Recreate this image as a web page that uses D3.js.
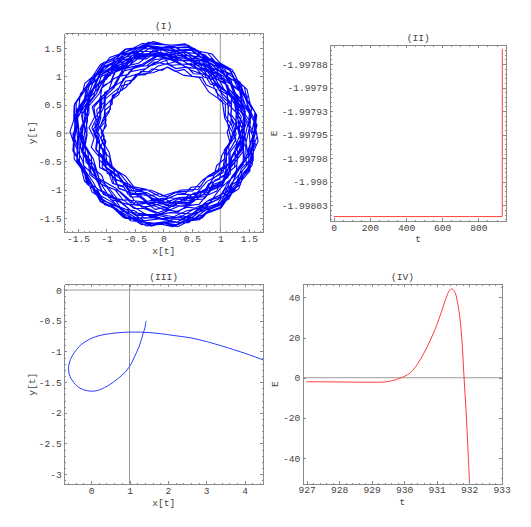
<!DOCTYPE html>
<html>
<head>
<meta charset="utf-8">
<title>Orbit and energy</title>
<script src="https://d3js.org/d3.v7.min.js"></script>
<style>
  body { margin: 0; background: #fff; }
  svg { display: block; }
  text { font-family: "Liberation Mono", "DejaVu Sans Mono", monospace; font-size: 9.6px; fill: #444; }
  .frame .domain, .frame line { stroke: #8a8a8a; stroke-width: 1; shape-rendering: crispEdges; }
  .origin { stroke: #9a9a9a; stroke-width: 1; }
</style>
</head>
<body>
<svg width="531" height="527"></svg>
<script>
const orbitAngle = [
  0,14,29,44,58,75,89,104,118,133,148,162,178,193,207,222,236,251,266,280,296,310,325,340,354,
  9,23,38,52,67,81,96,111,125,140,154,169,184,198,213,228,242,257,271,286,300,315,330,344,358,
  12,27,41,56,70,85,99,114,129,143,158,172,187,201,216,231,245,260,274,289,303,318,332,347,
  1,16,30,45,59,74,88,103,118,132,147,161,176,190,205,219,234,248,263,277,292,306,321,335,350,
  4,19,33,48,62,77,91,106,120,135,150,164,179,193,208,222,237,251,266,280,295,309,324,338,353,
  7,22,36,51,65,80,94,109,123,138,152,167,181,196,210,225,239,254,268,283,297,312,326,341,355,
  10,25,39,54,68,83,97,112,126,141,155,170,184,199,213,228,242,257,271,286,300,315,329,344,358,
  13,27,42,56,71,85,100,114,129,143,158,172,187,201,216,230,245,259,274,288,303,317,332,346,
  1,15,30,44,59,73,88,102,117,131,146,160,175,189,204,218,233,247,262,276,291,305,320,334,349,
  3,18,32,47,61,76,90,105,119,134,148,163,177,192,206,221,235,250,264,279,293,308,322,337,351,
  6,20,35,49,64,78,93,107,122,136,151,165,180,194,209,223,238,252,267,281,296,310,325,339,354,
  8,23,37,52,66,81,95,110,124,139,153,168,182,197,211,226,240,255,269,284,298,313,327,342,356,
  11,25,40,54,69,83,98,112,127,141,156,170,185,199,214,228,243,257,272,286,301,315,330,344,359,
  14,28,43,57,72,86,101,115,130,144,159,173,188,202,217,231,246,260,275,289,304,318,333,347,
  2,16,31,45,60,74,89,103,118,132,147,161,176,190,205,219,234,248,263,277,292,306,321,335,350,
  4,19,33,48,62,77,91,106,120,135,149,164,178,193,207,222,236,251,265,280,294,309,323,338,352,
  7,21,36,50,65,79,94,108,123,137,152,166,181,195,210,224,239,253,268,282,297,311,326,340,355,
  9,24,38,53,67,82,96,111,125,140,154,169,183,198,212,227,241,256,270,285,299,314,328,343,357,
  3,10,19,26,35,42,51,58,67,74,83,90,99,106,115,122,131,138,147,154,163,170,179,186,195,202,211,218,227,234,243,250,259,266,275,282,291,298,307,314,323,330,339,346,355,
  5,13,21,28,37,45,53,60,69,77,85,92,101,109,117,124,133,141,149,156,165,173,181,188,197,205,213,220,229,237,245,252,261,269,277,284,293,301,309,316,325,333,341,348,357,
  6,13,22,30,37,46,54,61,70,78,85,94,102,109,118,126,133,142,150,157,166,174,181,190,198,205,214,222,229,238,246,253,262,270,277,286,294,301,310,318,325,334,342,349,358,
  2,10,17,26,34,41,50,58,65,74,82,89,98,106,113,122,130,137,146,154,161,170,178,185,194,202,209,218,226,233,242,250,257,266,274,281,290,298,305,314,322,329,338,346,353,
  1,9,18,25,33,42,49,57,66,73,81,90,97,105,114,121,129,138,145,153,162,169,177,186,193,201,210,217,225,234,241,249,258,265,273,282,289,297,306,313,321,330,337,345,354,
  4,12,20,29,36,44,53,60,68,77,84,92,101,108,116,125,132,140,149,156,164,173,180,188,197,204,212,221,228,236,245,252,260,269,276,284,293,300,308,317,324,332,341,348,356,
  7,14,23,31,38,47,55,62,71,79,86,95,103,110,119,127,134,143,151,158,167,175,182,191,199,206,215,223,230,239,247,254,263,271,278,287,295,302,311,319,326,335,343,350,359,
  3,11,18,27,35,42,51,59,66,75,83,90,99,107,114,123,131,138,147,155,162,171,179,186,195,203,210,219,227,234,243,251,258,267,275,282,291,299,306,315,323,330,339,347,354,
  2,10,19,26,34,43,50,58,67,74,82,91,98,106,115,122,130,139,146,154,163,170,178,187,194,202,211,218,226,235,242,250,259,266,274,283,290,298,307,314,322,331,338,346,355,
  5,13,20,29,37,44,53,61,68,77,85,92,101,109,116,125,133,140,149,157,164,173,181,188,197,205,212,221,229,236,245,253,260,269,277,284,293,301,308,317,325,332,341,349,356,
  1,9,16,25,33,40,49,57,64,73,81,88,97,105,112,121,129,136,145,153,160,169,177,184,193,201,208,217,225,232,241,249,256,265,273,280,289,297,304,313,321,328,337,345,352,
  4,12,19,28,36,43,52,60,67,76,84,91,100,108,115,124,132,139,148,156,163,172,180,187,196,204,211,220,228,235,244,252,259,268,276,283,292,300,307,316,324,331,340,348,355
];
const orbitRadius = [
  1.30,1.38,1.31,1.42,1.35,1.47,1.40,1.51,1.44,1.55,1.47,1.56,1.49,1.58,1.50,1.60,1.52,1.58,1.49,1.55,1.45,1.51,1.40,1.46,1.36,
  1.28,1.20,1.27,1.16,1.22,1.12,1.18,1.08,1.15,1.06,1.13,1.05,1.12,1.04,1.11,1.06,1.14,1.08,1.17,1.10,1.20,1.13,1.24,1.18,1.30,
  1.40,1.50,1.45,1.56,1.50,1.61,1.55,1.64,1.57,1.65,1.58,1.66,1.59,1.65,1.57,1.64,1.56,1.63,1.55,1.64,1.57,1.62,1.53,1.59,
  1.50,1.56,1.47,1.52,1.41,1.47,1.36,1.42,1.31,1.37,1.27,1.33,1.22,1.29,1.19,1.26,1.17,1.24,1.15,1.23,1.16,1.25,1.18,1.28,1.21,
  1.30,1.22,1.33,1.26,1.37,1.30,1.41,1.34,1.45,1.38,1.49,1.42,1.53,1.46,1.56,1.49,1.59,1.52,1.62,1.55,1.63,1.56,1.64,1.57,1.62,
  1.52,1.44,1.47,1.37,1.41,1.31,1.35,1.25,1.30,1.20,1.26,1.16,1.23,1.14,1.21,1.12,1.20,1.12,1.22,1.15,1.26,1.19,1.31,1.24,1.36,
  1.30,1.40,1.33,1.45,1.38,1.48,1.40,1.49,1.41,1.50,1.42,1.51,1.43,1.52,1.44,1.50,1.42,1.49,1.40,1.47,1.38,1.46,1.37,1.45,1.36,
  1.46,1.55,1.50,1.60,1.54,1.63,1.56,1.62,1.53,1.60,1.51,1.58,1.50,1.59,1.52,1.61,1.54,1.64,1.58,1.66,1.60,1.65,1.58,1.62,
  1.55,1.60,1.50,1.54,1.43,1.47,1.36,1.40,1.28,1.33,1.21,1.26,1.14,1.20,1.09,1.16,1.07,1.15,1.06,1.14,1.04,1.12,1.05,1.14,1.08,
  1.16,1.07,1.15,1.06,1.16,1.09,1.20,1.13,1.24,1.17,1.28,1.21,1.32,1.25,1.36,1.29,1.40,1.33,1.44,1.37,1.47,1.40,1.50,1.43,1.52,
  1.46,1.57,1.51,1.62,1.55,1.64,1.56,1.63,1.55,1.62,1.53,1.63,1.56,1.66,1.58,1.65,1.57,1.62,1.53,1.60,1.50,1.57,1.47,1.54,1.44,
  1.36,1.27,1.33,1.22,1.29,1.18,1.26,1.16,1.24,1.13,1.21,1.10,1.19,1.09,1.18,1.10,1.20,1.13,1.24,1.17,1.29,1.22,1.34,1.27,1.39,
  1.33,1.44,1.37,1.47,1.40,1.52,1.44,1.55,1.47,1.57,1.48,1.55,1.45,1.53,1.42,1.50,1.39,1.47,1.36,1.45,1.34,1.43,1.33,1.42,1.35,
  1.25,1.35,1.22,1.31,1.18,1.27,1.15,1.25,1.14,1.26,1.17,1.30,1.22,1.36,1.29,1.43,1.36,1.50,1.43,1.55,1.48,1.58,1.50,1.57,
  1.49,1.58,1.52,1.61,1.53,1.59,1.49,1.55,1.45,1.52,1.41,1.50,1.40,1.49,1.40,1.50,1.42,1.53,1.45,1.57,1.50,1.60,1.53,1.62,1.55,
  1.45,1.36,1.40,1.28,1.33,1.20,1.26,1.12,1.19,1.07,1.15,1.04,1.12,1.03,1.11,1.02,1.10,1.03,1.12,1.05,1.15,1.09,1.20,1.14,1.26,
  1.20,1.31,1.26,1.38,1.32,1.44,1.37,1.48,1.41,1.52,1.45,1.57,1.50,1.60,1.53,1.62,1.55,1.60,1.51,1.57,1.47,1.53,1.43,1.49,1.39,
  1.45,1.35,1.41,1.30,1.37,1.27,1.35,1.26,1.36,1.28,1.39,1.31,1.42,1.34,1.45,1.37,1.47,1.39,1.48,1.40,1.49,1.41,1.50,1.42,1.46,
  1.22,1.28,1.21,1.27,1.20,1.27,1.22,1.29,1.24,1.31,1.26,1.33,1.28,1.34,1.29,1.36,1.31,1.37,1.32,1.39,1.34,1.40,1.35,1.42,1.37,1.43,1.38,1.44,1.39,1.46,1.41,1.47,1.42,1.48,1.43,1.49,1.44,1.50,1.45,1.51,1.46,1.52,1.47,1.53,1.48,
  1.55,1.61,1.54,1.60,1.53,1.60,1.55,1.62,1.56,1.63,1.57,1.63,1.56,1.62,1.55,1.61,1.54,1.61,1.56,1.63,1.58,1.64,1.58,1.65,1.59,1.65,1.58,1.64,1.57,1.63,1.56,1.62,1.55,1.61,1.54,1.60,1.53,1.59,1.52,1.58,1.51,1.57,1.50,1.56,1.49,
  1.44,1.50,1.42,1.47,1.39,1.44,1.36,1.41,1.33,1.38,1.30,1.35,1.27,1.32,1.24,1.29,1.21,1.27,1.19,1.25,1.17,1.23,1.14,1.20,1.11,1.17,1.09,1.15,1.07,1.13,1.05,1.12,1.04,1.11,1.03,1.10,1.04,1.11,1.05,1.12,1.06,1.13,1.08,1.15,1.10,
  1.16,1.10,1.17,1.11,1.18,1.12,1.19,1.12,1.18,1.11,1.17,1.10,1.16,1.09,1.15,1.08,1.14,1.07,1.13,1.06,1.12,1.06,1.13,1.07,1.14,1.09,1.16,1.11,1.18,1.13,1.21,1.16,1.24,1.19,1.28,1.23,1.32,1.27,1.36,1.31,1.40,1.35,1.44,1.39,1.48,
  1.52,1.46,1.53,1.47,1.55,1.49,1.57,1.51,1.59,1.52,1.60,1.53,1.61,1.54,1.60,1.53,1.59,1.51,1.57,1.50,1.56,1.48,1.55,1.47,1.54,1.46,1.53,1.45,1.52,1.44,1.50,1.43,1.49,1.42,1.48,1.41,1.47,1.40,1.46,1.39,1.45,1.38,1.44,1.37,1.42,
  1.36,1.30,1.37,1.31,1.38,1.32,1.39,1.33,1.40,1.33,1.39,1.32,1.38,1.31,1.37,1.30,1.36,1.29,1.35,1.28,1.34,1.28,1.35,1.29,1.36,1.30,1.38,1.32,1.39,1.33,1.41,1.35,1.42,1.36,1.43,1.37,1.44,1.38,1.45,1.39,1.46,1.40,1.47,1.41,1.48,
  1.54,1.60,1.56,1.62,1.57,1.63,1.58,1.64,1.59,1.65,1.60,1.65,1.59,1.64,1.58,1.63,1.57,1.63,1.58,1.64,1.59,1.65,1.60,1.66,1.60,1.65,1.59,1.64,1.58,1.64,1.59,1.65,1.60,1.66,1.61,1.66,1.60,1.65,1.59,1.64,1.58,1.63,1.57,1.62,1.56,
  1.55,1.49,1.54,1.47,1.52,1.45,1.50,1.42,1.47,1.40,1.45,1.37,1.42,1.34,1.39,1.31,1.36,1.28,1.33,1.25,1.30,1.22,1.27,1.19,1.24,1.16,1.21,1.13,1.18,1.10,1.16,1.08,1.14,1.06,1.13,1.05,1.12,1.05,1.13,1.06,1.14,1.08,1.16,1.10,1.18,
  1.22,1.15,1.23,1.16,1.25,1.18,1.27,1.20,1.28,1.21,1.29,1.21,1.28,1.20,1.27,1.19,1.26,1.18,1.25,1.17,1.24,1.16,1.23,1.16,1.24,1.17,1.25,1.18,1.27,1.20,1.29,1.22,1.31,1.24,1.33,1.26,1.35,1.28,1.37,1.30,1.39,1.32,1.41,1.34,1.43,
  1.38,1.45,1.40,1.47,1.42,1.49,1.44,1.51,1.46,1.53,1.48,1.55,1.50,1.57,1.52,1.58,1.53,1.60,1.55,1.61,1.56,1.62,1.57,1.63,1.58,1.63,1.57,1.62,1.56,1.62,1.55,1.61,1.54,1.60,1.53,1.59,1.52,1.58,1.51,1.57,1.50,1.56,1.49,1.55,1.48,
  1.44,1.37,1.43,1.36,1.42,1.34,1.40,1.33,1.39,1.31,1.37,1.30,1.36,1.28,1.34,1.27,1.33,1.25,1.31,1.24,1.30,1.22,1.29,1.21,1.28,1.20,1.27,1.19,1.26,1.18,1.25,1.17,1.24,1.17,1.25,1.18,1.26,1.19,1.27,1.20,1.28,1.21,1.29,1.22,1.30,
  1.33,1.40,1.36,1.44,1.40,1.48,1.44,1.52,1.48,1.55,1.50,1.57,1.51,1.56,1.49,1.53,1.45,1.49,1.41,1.45,1.36,1.40,1.31,1.35,1.26,1.30,1.21,1.26,1.17,1.23,1.15,1.22,1.14,1.22,1.16,1.24,1.19,1.27,1.23,1.31,1.27,1.35,1.31,1.39,1.35
];

// ---- (II) energy over the whole run
const tII = [0, 150, 300, 450, 600, 750, 900, 931, 931.6, 932];
const eII = [-1.998037, -1.998037, -1.998037, -1.998037, -1.998037, -1.998037, -1.998037, -1.998037, -1.998036, -1.997859];

// ---- (III) last part of the orbit
const xIII = [1.43, 1.40, 1.36, 1.25, 1.12, 1.00, 0.80, 0.58, 0.35, 0.10, -0.10, -0.29, -0.45, -0.55, -0.59, -0.57, -0.50, -0.38, -0.24, 0.00, 0.23, 0.50, 0.84, 1.15, 1.43, 1.80, 2.14, 2.60, 3.01, 3.40, 3.71, 4.10, 4.49, 4.80];
const yIII = [-0.505, -0.62, -0.70, -0.92, -1.10, -1.25, -1.39, -1.50, -1.59, -1.645, -1.64, -1.60, -1.51, -1.41, -1.30, -1.19, -1.08, -0.97, -0.88, -0.79, -0.74, -0.71, -0.69, -0.685, -0.69, -0.71, -0.74, -0.78, -0.84, -0.91, -0.97, -1.05, -1.14, -1.21];

// ---- (IV) energy near the end
const tIV = [927.0, 927.5, 928.0, 928.5, 929.0, 929.3, 929.5, 929.7, 929.85, 930.0, 930.2, 930.4, 930.6, 930.8, 931.0, 931.15, 931.3, 931.4, 931.47, 931.55, 931.67, 931.77, 931.84, 931.92, 931.97, 932.02];
const eIV = [-2.0, -2.05, -2.1, -2.2, -2.25, -2.2, -1.9, -1.2, -0.4, 0.6, 2.6, 6.5, 12, 18.5, 26, 33, 40, 43.6, 44.2, 43, 35, 20.5, 1, -21, -38, -56];

// ---- tick labels
const ticksI = [-1.5, -1, -0.5, 0, 0.5, 1, 1.5];
const labelsI = ["-1.5", "-1", "-0.5", "0", "0.5", "1", "1.5"];
const ticksIIx = [0, 200, 400, 600, 800];
const ticksIIy = [-1.997875, -1.9979, -1.997925, -1.99795, -1.997975, -1.998, -1.998025];
const labelsIIy = ["-1.99788", "-1.9979", "-1.99793", "-1.99795", "-1.99798", "-1.998", "-1.99803"];
const ticksIIIx = [0, 1, 2, 3, 4];
const ticksIIIy = [0, -0.5, -1, -1.5, -2, -2.5, -3];
const labelsIIIy = ["0", "-0.5", "-1", "-1.5", "-2", "-2.5", "-3"];
const ticksIVx = [927, 928, 929, 930, 931, 932, 933];
const ticksIVy = [40, 20, 0, -20, -40];
const labelsIVy = ["40", "20", "0", "-20", "-40"];

const svg = d3.select("svg");
let clipId = 0;

function panel(o) {
  const g = svg.append("g");
  const x = d3.scaleLinear().domain(o.xd).range([o.l, o.r]);
  const y = d3.scaleLinear().domain(o.yd).range([o.b, o.t]);
  const id = "clip" + (clipId++);
  svg.append("clipPath").attr("id", id)
    .append("rect").attr("x", o.l).attr("y", o.t).attr("width", o.r - o.l).attr("height", o.b - o.t);
  const inner = g.append("g").attr("clip-path", "url(#" + id + ")");

  // axes through the origin point
  if (o.ox !== undefined)
    inner.append("line").attr("class", "origin")
      .attr("x1", x(o.ox)).attr("x2", x(o.ox)).attr("y1", o.t).attr("y2", o.b);
  if (o.oy !== undefined)
    inner.append("line").attr("class", "origin").attr("stroke-width", o.oyw || 1)
      .attr("x1", o.l).attr("x2", o.r).attr("y1", y(o.oy)).attr("y2", y(o.oy));

  o.draw(inner, x, y);

  // frame: ticks on all four sides, labels on bottom and left only
  const fmt = (vals, labs) => (d) => labs ? labs[vals.indexOf(d)] : String(d);
  const frame = g.append("g").attr("class", "frame");
  const sides = [
    [d3.axisBottom, x, `translate(0,${o.b})`, o.xt, o.xl, o.xm, true],
    [d3.axisTop, x, `translate(0,${o.t})`, o.xt, o.xl, o.xm, false],
    [d3.axisLeft, y, `translate(${o.l},0)`, o.yt, o.yl, o.ym, true],
    [d3.axisRight, y, `translate(${o.r},0)`, o.yt, o.yl, o.ym, false]
  ];
  sides.forEach(([mk, sc, tr, vals, labs, nMinor, show]) => {
    frame.append("g").attr("transform", tr)
      .call(mk(sc).tickValues(sc.ticks(nMinor)).tickSize(-1.5).tickSizeOuter(0).tickFormat(""));
    frame.append("g").attr("transform", tr)
      .call(mk(sc).tickValues(vals).tickSize(-3).tickSizeOuter(0).tickPadding(show ? 2.5 : 0)
        .tickFormat(show ? fmt(vals, labs) : ""));
  });
  frame.selectAll("g").attr("font-family", null).attr("font-size", null);
  frame.selectAll("text").attr("fill", null);

  // titles and axis labels
  g.append("text").attr("x", (o.l + o.r) / 2).attr("y", o.t - 4).attr("text-anchor", "middle").text(o.title);
  g.append("text").attr("x", (o.l + o.r) / 2).attr("y", o.b + o.xlabDy).attr("text-anchor", "middle").text(o.xlab);
  g.append("text").attr("transform", `translate(${o.l - o.ylabDx},${(o.t + o.b) / 2}) rotate(-90)`)
    .attr("text-anchor", "middle").attr("dominant-baseline", "central").text(o.ylab);
}

// (I)
panel({
  l: 64.3, r: 263, t: 33.3, b: 232.3, xd: [-1.74, 1.75], yd: [-1.75, 1.76],
  xt: ticksI, xl: labelsI, yt: ticksI, yl: labelsI, xm: 35, ym: 35,
  ox: 1, oy: 0, title: "(I)", xlab: "x[t]", ylab: "y[t]", xlabDy: 21.5, ylabDx: 32,
  draw: (g, x, y) => {
    const rs = d3.scaleLinear().domain([0, 1]).range([0, x(1) - x(0)]);
    const pts = orbitAngle.map((a, i) => [a, orbitRadius[i]]);
    g.append("path").datum(pts)
      .attr("transform", `translate(${x(0.02)},${y(0)})`)
      .attr("d", d3.lineRadial().angle(d => d[0] * Math.PI / 180).radius(d => rs(d[1])))
      .attr("fill", "none").attr("stroke", "#0000ff").attr("stroke-width", 1.1);
  }
});

// (II)
panel({
  l: 330.3, r: 506, t: 45.3, b: 221.3, xd: [-18.8, 952.4], yd: [-1.998042, -1.997855],
  xt: ticksIIx, yt: ticksIIy, yl: labelsIIy, xm: 20, ym: 40,
  title: "(II)", xlab: "t", ylab: "E", xlabDy: 21, ylabDx: 56,
  draw: (g, x, y) => {
    g.append("path").datum(tII.map((t, i) => [t, eII[i]]))
      .attr("d", d3.line().x(d => x(d[0])).y(d => y(d[1])))
      .attr("fill", "none").attr("stroke", "#ff3a3a").attr("stroke-width", 1);
  }
});

// (III)
panel({
  l: 64.3, r: 263, t: 284.3, b: 484.3, xd: [-0.70, 4.48], yd: [-3.165, 0.093],
  xt: ticksIIIx, yt: ticksIIIy, yl: labelsIIIy, xm: 26, ym: 33,
  ox: 1, oy: 0, oyw: 1.6, title: "(III)", xlab: "x[t]", ylab: "y[t]", xlabDy: 21.5, ylabDx: 32,
  draw: (g, x, y) => {
    g.append("path").datum(xIII.map((v, i) => [v, yIII[i]]))
      .attr("d", d3.line().x(d => x(d[0])).y(d => y(d[1])).curve(d3.curveCatmullRom))
      .attr("fill", "none").attr("stroke", "#2a3cff").attr("stroke-width", 1);
  }
});

// (IV)
panel({
  l: 302.7, r: 502.3, t: 284.3, b: 484, xd: [926.88, 933.02], yd: [-52.9, 46.5],
  xt: ticksIVx, yt: ticksIVy, yl: labelsIVy, xm: 30, ym: 20,
  oy: 0, title: "(IV)", xlab: "t", ylab: "E", xlabDy: 21, ylabDx: 27,
  draw: (g, x, y) => {
    g.append("path").datum(tIV.map((t, i) => [t, eIV[i]]))
      .attr("d", d3.line().x(d => x(d[0])).y(d => y(d[1])).curve(d3.curveCatmullRom))
      .attr("fill", "none").attr("stroke", "#ff3a3a").attr("stroke-width", 1);
  }
});
</script>
</body>
</html>
